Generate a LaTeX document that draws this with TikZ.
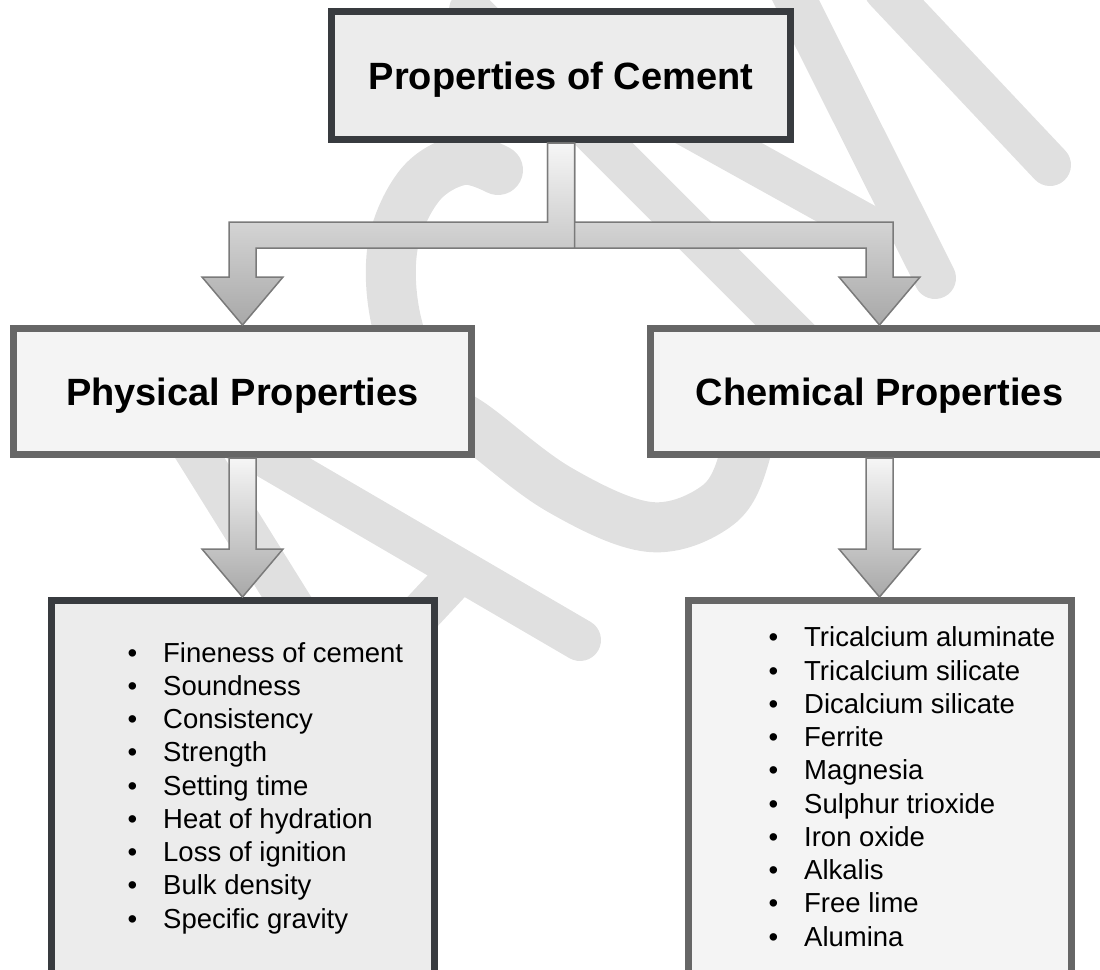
\documentclass[tikz,border=0pt]{standalone}
\usepackage{fontspec}
\setmainfont{Liberation Sans}
\usetikzlibrary{positioning,calc}
\definecolor{darkframe}{RGB}{56,59,63}
\definecolor{grayframe}{RGB}{102,102,102}
\definecolor{paleA}{RGB}{236,236,236}
\definecolor{paleB}{RGB}{244,244,244}
\definecolor{wmark}{RGB}{224,224,224}
\definecolor{arrowline}{RGB}{122,122,122}
\definecolor{arrowtop}{RGB}{246,246,246}
\definecolor{arrowbot}{RGB}{168,168,168}
\newcommand{\itm}{\makebox[35.5pt][l]{\textbullet}}

\begin{document}
\begin{tikzpicture}[x=1pt,y=-1pt,
  heads/.style={draw=#1,line width=7pt,minimum width=458pt,minimum height=126pt,inner sep=0pt,font=\fontsize{38}{44}\selectfont\bfseries,text height=27.4pt,text depth=0pt},
  listbox/.style={draw=#1,line width=7pt,minimum width=383pt,minimum height=386pt,inner sep=0pt},
  items/.style={font=\fontsize{27.5}{33.25}\selectfont,align=left,inner sep=0pt,anchor=base west},
  fatarrow/.style={draw=arrowline,line width=1.5pt,top color=arrowtop,bottom color=arrowbot},
  wm/.style={draw=wmark,line width=#1,line cap=round},
]
\useasboundingbox (0,0) rectangle (1100,969);

% watermark
\draw[wm=50pt] plot[smooth,tension=0.6] coordinates {(498,170) (462,160) (420,185) (393,245) (396,320) (425,390) (477,428) (560,490) (650,527) (718,505) (745,455) (750,400)};
\draw[wm=42pt] (170,410) -- (332,670);
\draw[wm=42pt] (220,430) -- (580,640);
\draw[wm=42pt] (452,580) -- (340,700);
\draw[wm=42pt] (470,10) -- (850,390);
\draw[wm=42pt] (560,55) -- (868,226);
\draw[wm=42pt] (788,-15) -- (935,278);
\draw[wm=42pt] (885,-10) -- (1050,165);

\node (top) [heads=darkframe,fill=paleA,minimum width=459pt,minimum height=128pt] at (561,75.5) {Properties of Cement};
\node (phys) [heads=grayframe,fill=paleB] at (242.5,391.5) {Physical Properties};
\node (chem) [heads=grayframe,fill=paleB] at (879.5,391.5) {Chemical Properties};

\node (physlist) [listbox=darkframe,fill=paleA,below=139pt of phys] {};
\node (chemlist) [listbox=grayframe,fill=paleB,below=139pt of chem] {};

% base = last line
\node (physitems) [items] at (127.5,928) {\itm Fineness of cement\\ \itm Soundness\\ \itm Consistency\\ \itm Strength\\ \itm Setting time\\ \itm Heat of hydration\\ \itm Loss of ignition\\ \itm Bulk density\\ \itm Specific gravity};
\node (chemitems) [items] at (768.5,946) {\itm Tricalcium aluminate\\ \itm Tricalcium silicate\\ \itm Dicalcium silicate\\ \itm Ferrite\\ \itm Magnesia\\ \itm Sulphur trioxide\\ \itm Iron oxide\\ \itm Alkalis\\ \itm Free lime\\ \itm Alumina};

% split arrow from the top box
\path[fatarrow] ($(top.south)+(13.5,0)$) -- ++(0,79) -| ($(chem.north)+(13.5,-48)$) -- ++(27,0) -- (chem.north) -- ++(-40.5,-48) -- ++(27,0) |- ($(top.south)+(-13.5,105)$) -- ($(top.south)+(-13.5,0)$) -- cycle;
\path[fatarrow] ($(top.south)+(-13.5,0)$) -- ++(0,79) -| ($(phys.north)+(-13.5,-48)$) -- ++(-27,0) -- (phys.north) -- ++(40.5,-48) -- ++(-27,0) |- ($(top.south)+(13.5,105)$) -- ($(top.south)+(13.5,0)$) -- cycle;

\path[fatarrow] ($(phys.south)+(-13.5,0)$) -- ($(physlist.north)+(-13.5,-48)$) -- ++(-27,0) -- (physlist.north) -- ++(40.5,-48) -- ++(-27,0) -- ($(phys.south)+(13.5,0)$) -- cycle;
\path[fatarrow] ($(chem.south)+(-13.5,0)$) -- ($(chemlist.north)+(-13.5,-48)$) -- ++(-27,0) -- (chemlist.north) -- ++(40.5,-48) -- ++(-27,0) -- ($(chem.south)+(13.5,0)$) -- cycle;
\end{tikzpicture}
\end{document}
